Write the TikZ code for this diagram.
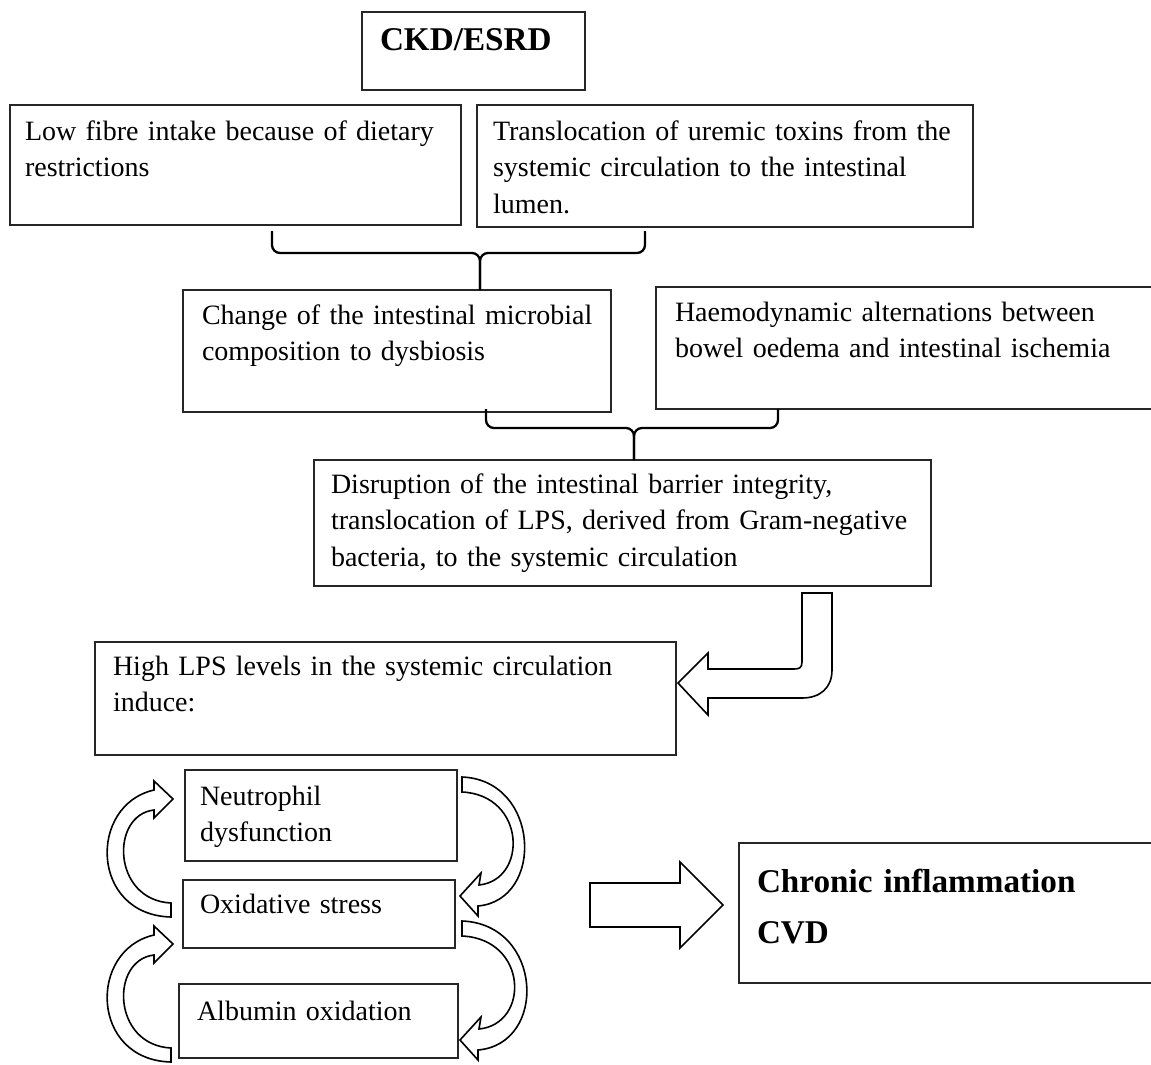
\documentclass[tikz,border=0pt]{standalone}
\usepackage{fontspec}
\setmainfont{Liberation Serif}
\begin{document}
\begin{tikzpicture}[x=1pt,y=-1pt,
  box/.style={draw=black!85, line width=1.3pt, rectangle, inner sep=0pt, outer sep=0pt, anchor=north west},
  txt/.style={anchor=base west, inner sep=0pt, outer sep=0pt, align=left, text width=#1, font=\fontsize{28}{36.5}\selectfont},
  btxt/.style={anchor=base west, inner sep=0pt, outer sep=0pt, align=left, text width=#1, font=\fontsize{33.2}{51}\selectfont\bfseries},
  brace/.style={draw=black, line width=2.3pt, rounded corners=8},
  barrow/.style={draw=black, fill=white, line width=1.6pt, line join=miter}
]
\clip (0,0) rectangle (1151,1065);
\fill[white] (0,0) rectangle (1151,1065);

% boxes
\node[box, minimum width=223, minimum height=78] (ckd) at (362,12) {};
\node[btxt=200pt] (ckdt) at ([shift={(18,39)}]ckd.north west) {CKD/ESRD};

\node[box, minimum width=451, minimum height=120] (A) at (10,105) {};
\node[txt=430pt] (At) at ([shift={(15,35)}]A.north west) {Low fibre intake because of dietary\\restrictions};

\node[box, minimum width=496, minimum height=122] (B) at (477,105) {};
\node[txt=480pt] (Bt) at ([shift={(16,35)}]B.north west) {Translocation of uremic toxins from the\\systemic circulation to the intestinal\\lumen.};

\node[box, minimum width=428, minimum height=122] (C) at (183,290) {};
\node[txt=410pt] (Ct) at ([shift={(19,34)}]C.north west) {Change of the intestinal microbial\\composition to dysbiosis};

\node[box, minimum width=520, minimum height=122] (D) at (656,287) {};
\node[txt=480pt] (Dt) at ([shift={(19,34)}]D.north west) {Haemodynamic alternations between\\bowel oedema and intestinal ischemia};

\node[box, minimum width=617, minimum height=126] (E) at (314,460) {};
\node[txt=600pt] (Et) at ([shift={(17,33)}]E.north west) {Disruption of the intestinal barrier integrity,\\translocation of LPS, derived from Gram-negative\\bacteria, to the systemic circulation};

\node[box, minimum width=581, minimum height=113] (F) at (95,642) {};
\node[txt=560pt] (Ft) at ([shift={(18,33)}]F.north west) {High LPS levels in the systemic circulation\\induce:};

\node[box, minimum width=272, minimum height=91] (G) at (185,770) {};
\node[txt=250pt] (Gt) at ([shift={(15,35)}]G.north west) {Neutrophil\\dysfunction};

\node[box, minimum width=272, minimum height=68] (H) at (183,880) {};
\node[txt=250pt] (Ht) at ([shift={(17,33)}]H.north west) {Oxidative stress};

\node[box, minimum width=279, minimum height=74] (I) at (179,984) {};
\node[txt=260pt] (It) at ([shift={(18,36)}]I.north west) {Albumin oxidation};

\node[box, minimum width=430, minimum height=140] (J) at (739,843) {};
\node[btxt=400pt] (Jt) at ([shift={(18,49)}]J.north west) {Chronic inflammation\\CVD};

% brackets
\coordinate (b1l) at (272,231);
\coordinate (b1r) at (645,231);
\coordinate (b1m) at (480,253);
\draw[brace] (b1l) |- (b1m) -- (b1m |- C.north);
\draw[brace] (b1r) |- (b1m) -- (b1m |- C.north);

\coordinate (b2l) at (486,409);
\coordinate (b2r) at (778,409);
\coordinate (b2m) at (634,428);
\draw[brace] (b2l) |- (b2m) -- (b2m |- E.north);
\draw[brace] (b2r) |- (b2m) -- (b2m |- E.north);

% U-turn block arrow from E to F
\draw[barrow] (802,593) -- (802,662) .. controls (802,668) and (799,669) .. (794,669)
  -- (708,669) -- (708,653) -- (678,683) -- (708,715) -- (708,698) -- (802,698)
  .. controls (820,698) and (832,688) .. (832,670) -- (832,593) -- cycle;

% big right arrow
\draw[barrow] (590,883) -- (680,883) -- (680,862) -- (723,905) -- (680,948) -- (680,927) -- (590,927) -- cycle;

% curved arrows, left side
\draw[barrow] (171,917) .. controls (90,915) and (88,805) .. (154,790) -- (154,781) -- (173,799)
  -- (154,818) -- (154,810) .. controls (110,815) and (112,900) .. (171,903) -- cycle;
\begin{scope}[shift={(0,145)}]
\draw[barrow] (171,917) .. controls (90,915) and (88,805) .. (154,790) -- (154,781) -- (173,799)
  -- (154,818) -- (154,810) .. controls (110,815) and (112,900) .. (171,903) -- cycle;
\end{scope}

% curved arrows, right side
\draw[barrow] (462,777) .. controls (540,780) and (545,900) .. (478,906) -- (478,916) -- (460,896)
  -- (481,873) -- (479,885) .. controls (528,880) and (526,795) .. (462,792) -- cycle;
\begin{scope}[shift={(0,144)}]
\draw[barrow] (462,777) .. controls (543,780) and (548,900) .. (478,906) -- (478,916) -- (460,896)
  -- (481,873) -- (479,885) .. controls (530,880) and (528,795) .. (462,792) -- cycle;
\end{scope}
\end{tikzpicture}
\end{document}
